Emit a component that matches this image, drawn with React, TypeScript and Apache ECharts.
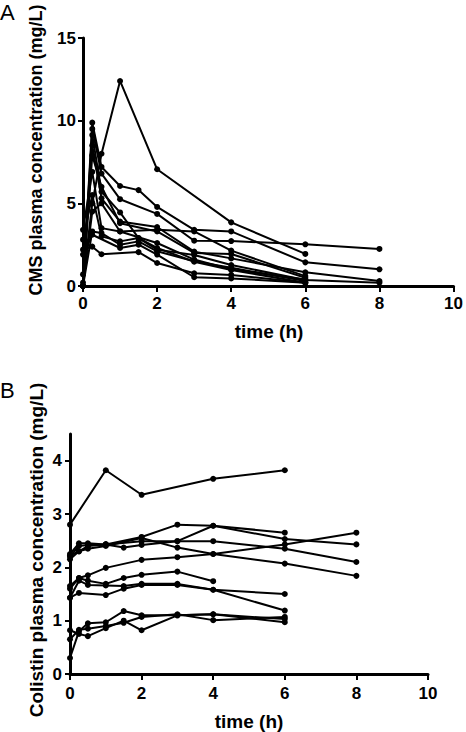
import React, { useEffect, useRef } from "react";
import * as echarts from "echarts";

type Pt = [number, number];

// Panel A: CMS plasma concentration (mg/L) vs time (h)
const cmsS1: Pt[] = [[0, 0.2], [0.25, 5.0], [0.5, 8.0], [1, 12.4], [2, 7.06], [4, 3.85], [6, 1.94]];
const cmsS2: Pt[] = [[0, 0], [0.25, 9.88], [0.5, 7.2], [1, 6.05], [1.5, 5.8], [2, 4.78], [3, 3.4], [4, 3.3], [6, 1.43], [8, 1.01]];
const cmsS3: Pt[] = [[0, 0], [0.25, 9.5], [0.5, 6.8], [1, 5.25], [2, 4.36], [3, 2.74], [4, 2.72], [6, 2.52], [8, 2.24]];
const cmsS4: Pt[] = [[0, 0], [0.25, 9.13], [0.5, 5.7], [1, 4.45], [1.5, 2.9], [2, 2.3], [3, 1.47], [4, 0.97], [6, 0.2]];
const cmsS5: Pt[] = [[0, 0.7], [0.25, 8.5], [0.5, 5.3], [1, 3.9], [2, 3.57], [3, 2.08], [4, 1.67], [6, 0.83], [8, 0.3]];
const cmsS6: Pt[] = [[0, 3.4], [0.25, 6.9], [0.5, 3.5], [1, 3.3], [2, 3.4], [3, 3.3], [4, 2.14], [6, 0.6]];
const cmsS7: Pt[] = [[0, 2.8], [0.25, 5.5], [0.5, 3.0], [1, 2.7], [1.5, 2.9], [2, 2.2], [3, 1.88], [4, 1.27], [6, 0.36], [8, 0.2]];
const cmsS8: Pt[] = [[0, 2.2], [0.25, 2.38], [0.5, 1.92], [1.5, 2.05], [2, 1.39], [3, 0.77], [4, 0.67], [6, 0.2]];
const cmsS9: Pt[] = [[0, 1.9], [0.25, 3.1], [1, 2.3], [1.5, 2.5], [2, 1.9], [3, 0.53], [4, 0.46], [6, 0.2]];
const cmsS10: Pt[] = [[0, 0], [0.25, 4.5], [0.5, 5.0], [1, 3.3], [2, 2.6], [3, 1.6], [4, 1.0], [6, 0.4]];
const cmsS11: Pt[] = [[0, 0], [0.25, 7.9], [0.5, 6.0], [1, 3.8], [2, 3.3], [3, 2.0], [4, 1.94], [6, 0.5]];
const cmsS12: Pt[] = [[0, 0], [0.25, 3.3], [0.5, 3.2], [1, 2.5], [1.5, 2.7], [2, 2.1], [3, 1.5], [4, 1.1], [6, 0.3]];
const cmsSubjects: Pt[][] = [cmsS1, cmsS2, cmsS3, cmsS4, cmsS5, cmsS6, cmsS7, cmsS8, cmsS9, cmsS10, cmsS11, cmsS12];

// Panel B: Colistin plasma concentration (mg/L) vs time (h)
const colS1: Pt[] = [[0, 2.8], [1, 3.82], [2, 3.36], [4, 3.66], [6, 3.82]];
const colS2: Pt[] = [[0, 2.2], [0.25, 2.4], [0.5, 2.42], [1, 2.43], [2, 2.57], [3, 2.8], [4, 2.78], [6, 2.65]];
const colS3: Pt[] = [[0, 2.15], [0.25, 2.3], [0.5, 2.4], [1, 2.43], [1.5, 2.37], [2, 2.42], [3, 2.49], [4, 2.78], [6, 2.53], [8, 2.43]];
const colS4: Pt[] = [[0, 2.25], [0.25, 2.45], [0.5, 2.45], [1, 2.43], [2, 2.49], [3, 2.49], [4, 2.49], [6, 2.35], [8, 2.1]];
const colS5: Pt[] = [[0, 2.22], [0.25, 2.3], [0.5, 2.35], [1, 2.4], [2, 2.55], [3, 2.37], [4, 2.25], [6, 2.07], [8, 1.84]];
const colS6: Pt[] = [[0, 1.6], [0.25, 1.8], [0.5, 1.85], [1, 1.99], [2, 2.14], [3, 2.19], [4, 2.25], [6, 2.43], [8, 2.65]];
const colS7: Pt[] = [[0, 1.65], [0.25, 1.8], [0.5, 1.75], [1, 1.69], [1.5, 1.8], [2, 1.86], [3, 1.92], [4, 1.74]];
const colS8: Pt[] = [[0, 1.43], [0.25, 1.75], [0.5, 1.67], [1, 1.66], [1.5, 1.65], [2, 1.69], [3, 1.69], [4, 1.58], [6, 1.5]];
const colS9: Pt[] = [[0, 1.43], [0.25, 1.52], [1, 1.48], [1.5, 1.6], [2, 1.67], [3, 1.67], [4, 1.58], [6, 1.19]];
const colS10: Pt[] = [[0, 0.3], [0.25, 0.8], [0.5, 0.95], [1, 0.97], [1.5, 1.18], [2, 1.1], [3, 1.1], [4, 1.12], [6, 1.03]];
const colS11: Pt[] = [[0, 0.65], [0.25, 0.83], [0.5, 0.85], [1, 0.9], [1.5, 0.96], [2, 1.07], [3, 1.12], [4, 1.01], [6, 1.07]];
const colS12: Pt[] = [[0, 0.82], [0.25, 0.75], [0.5, 0.71], [1, 0.86], [1.5, 1.0], [2, 0.82], [3, 1.1], [4, 1.12], [6, 0.97]];
const colSubjects: Pt[][] = [colS1, colS2, colS3, colS4, colS5, colS6, colS7, colS8, colS9, colS10, colS11, colS12];

const xTicks = [0, 2, 4, 6, 8, 10];
const cmsYTicks = [0, 5, 10, 15];
const colYTicks = [0, 1, 2, 3, 4];

const FONT = '"Liberation Sans", Arial, Helvetica, sans-serif';

export default function App() {
  const ref = useRef<HTMLDivElement>(null);

  useEffect(() => {
    if (!ref.current) return;
    const chart = echarts.init(ref.current, undefined, { renderer: "svg" });

    const axisCommon = {
      axisLine: { show: true, onZero: false, lineStyle: { color: "#000", width: 3 } },
      axisTick: { show: true, length: 6, lineStyle: { color: "#000", width: 2 } },
      splitLine: { show: false },
      axisLabel: { color: "#000", fontFamily: FONT, fontWeight: "bold" as const, fontSize: 17 },
    };

    const mkSeries = (data: Pt[], idx: number) => ({
      type: "line" as const,
      xAxisIndex: idx,
      yAxisIndex: idx,
      data,
      symbol: "circle",
      symbolSize: 6,
      showSymbol: true,
      lineStyle: { color: "#000", width: 2 },
      itemStyle: { color: "#000" },
      emphasis: { disabled: true },
    });

    chart.setOption({
      animation: false,
      grid: [
        { left: 83, right: 11, top: 38, height: 248 },
        { left: 70, right: 38, top: 434, height: 240 },
      ],
      xAxis: [
        {
          ...axisCommon,
          gridIndex: 0,
          type: "value",
          min: 0,
          max: 10,
          interval: 2,
          axisLabel: { ...axisCommon.axisLabel, margin: 9, customValues: xTicks },
          axisTick: { ...axisCommon.axisTick, customValues: xTicks },
        },
        {
          ...axisCommon,
          gridIndex: 1,
          type: "value",
          min: 0,
          max: 10,
          interval: 2,
          axisLabel: { ...axisCommon.axisLabel, margin: 11, customValues: xTicks },
          axisTick: { ...axisCommon.axisTick, customValues: xTicks },
        },
      ],
      yAxis: [
        {
          ...axisCommon,
          gridIndex: 0,
          type: "value",
          min: 0,
          max: 15,
          interval: 5,
          axisLabel: { ...axisCommon.axisLabel, margin: 7, customValues: cmsYTicks },
          axisTick: { ...axisCommon.axisTick, length: 5, customValues: cmsYTicks },
        },
        {
          ...axisCommon,
          gridIndex: 1,
          type: "value",
          min: 0,
          max: 4.5,
          interval: 1,
          axisLabel: { ...axisCommon.axisLabel, margin: 8, customValues: colYTicks },
          axisTick: { ...axisCommon.axisTick, length: 5, customValues: colYTicks },
        },
      ],
      series: [
        ...cmsSubjects.map((d) => mkSeries(d, 0)),
        ...colSubjects.map((d) => mkSeries(d, 1)),
      ],
      graphic: [
        { type: "text", left: 0, top: 1, style: { text: "A", font: `22px ${FONT}`, fill: "#000" } },
        { type: "text", left: 0, top: 379, style: { text: "B", font: `22px ${FONT}`, fill: "#000" } },
        {
          type: "text", x: 36, y: 150, rotation: Math.PI / 2,
          style: { text: "CMS plasma concentration (mg/L)", font: `bold 18px ${FONT}`, fill: "#000", align: "center", verticalAlign: "middle" },
        },
        {
          type: "text", x: 36, y: 550, rotation: Math.PI / 2,
          style: { text: "Colistin plasma concentration (mg/L)", font: `bold 19px ${FONT}`, fill: "#000", align: "center", verticalAlign: "middle" },
        },
        {
          type: "text", x: 269, y: 331,
          style: { text: "time (h)", font: `bold 19px ${FONT}`, fill: "#000", align: "center", verticalAlign: "middle" },
        },
        {
          type: "text", x: 249, y: 721,
          style: { text: "time (h)", font: `bold 19px ${FONT}`, fill: "#000", align: "center", verticalAlign: "middle" },
        },
      ],
    });

    return () => chart.dispose();
  }, []);

  return (
    <div
      ref={ref}
      style={{ position: "absolute", left: 0, top: 0, width: 466, height: 732, background: "#fff" }}
    />
  );
}
